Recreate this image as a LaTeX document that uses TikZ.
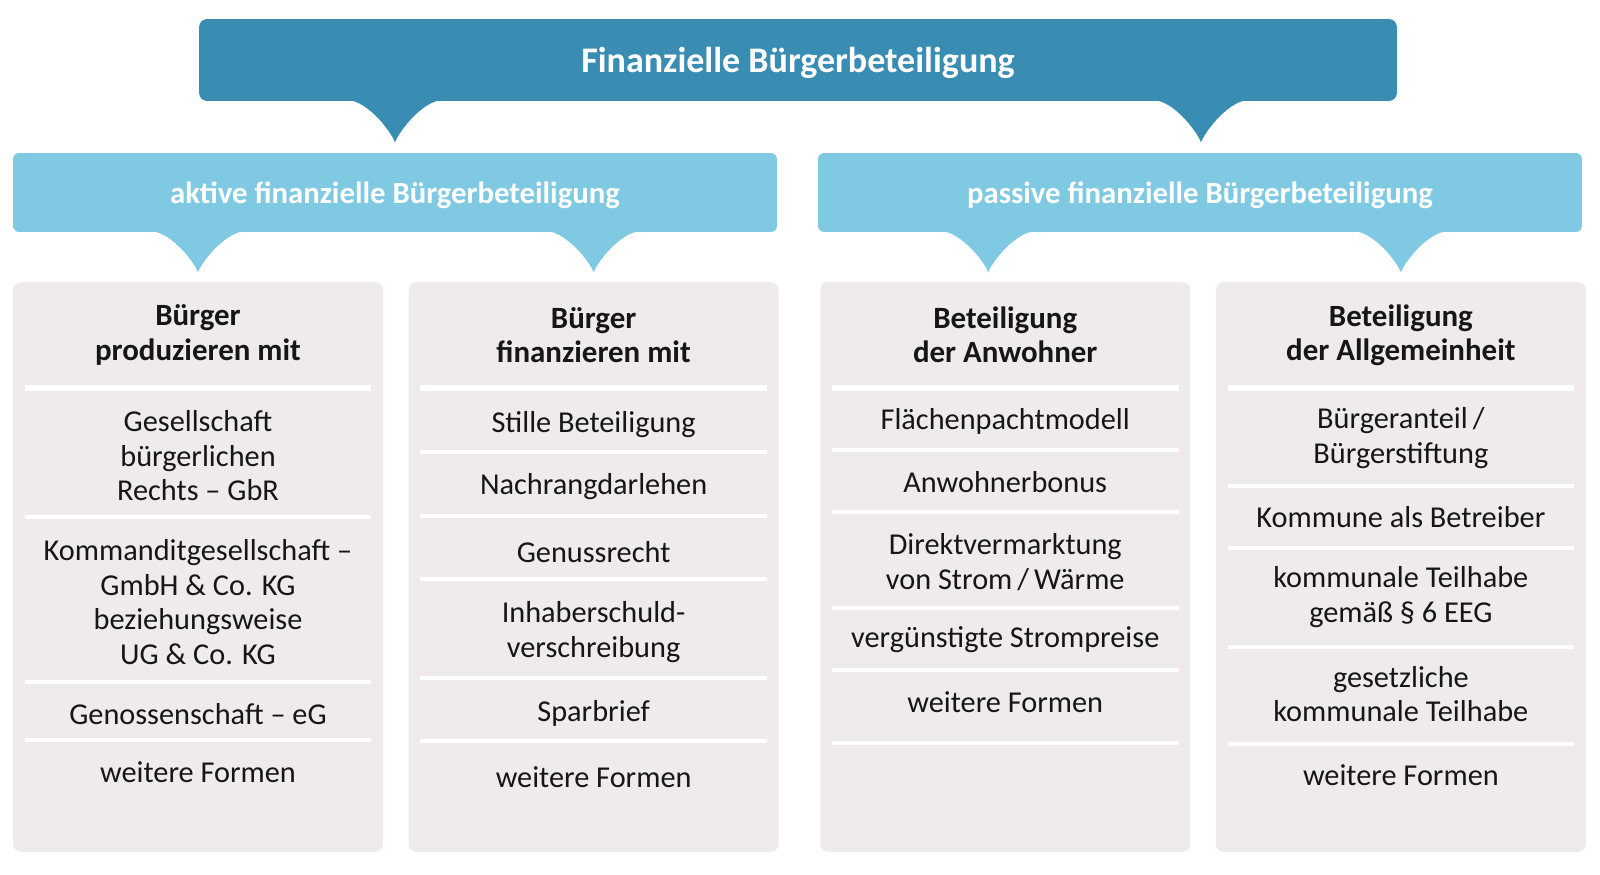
\documentclass[tikz,border=0pt]{standalone}
\usepackage{fontspec}
\setmainfont{Carlito}
\usetikzlibrary{positioning}
\usetikzlibrary{calc}

\definecolor{topblue}{RGB}{58,141,178}
\definecolor{midblue}{RGB}{127,202,226}
\definecolor{cardgray}{RGB}{238,235,234}
\definecolor{inkdark}{RGB}{22,22,22}

\tikzset{
    titlebox/.style={rectangle, rounded corners=0.16cm, fill=topblue, text=white,
        minimum width=23.96cm, minimum height=1.64cm, inner sep=0pt, text depth=0pt,
        font=\fontsize{20.5}{23}\selectfont\bfseries},
    groupbox/.style={rectangle, rounded corners=0.12cm, fill=midblue, text=white,
        minimum width=15.28cm, minimum height=1.58cm, inner sep=0pt, text depth=0pt,
        font=\fontsize{17.5}{21}\selectfont\bfseries},
    card/.style={rectangle, rounded corners=0.16cm, fill=cardgray,
        minimum width=7.4cm, minimum height=11.4cm, inner sep=0pt},
    cardhead/.style={align=center, text=inkdark, inner sep=0pt,
        font=\fontsize{17.6}{19.6}\selectfont\bfseries},
    item/.style={align=center, text=inkdark, inner sep=0pt,
        font=\fontsize{17.25}{19.6}\selectfont},
    headline/.style={draw=white, line width=0.12cm, shorten >=0.24cm, shorten <=0.24cm},
    sepline/.style={draw=white, line width=0.07cm, shorten >=0.24cm, shorten <=0.24cm}
}

\begin{document}
\begin{tikzpicture}[x=0.02cm,y=-0.02cm]
    \useasboundingbox (0,0) rectangle (1600,875);

    \node[titlebox] (title) at (798,60) {Finanzielle Bürgerbeteiligung};

    \node[groupbox] (aktiv) at (395,192.5) {aktive finanzielle Bürgerbeteiligung};
    \node[groupbox] (passiv) at (1200,192.5) {passive finanzielle Bürgerbeteiligung};

    \node[card] (c1) at (198,567) {};
    \node[card, right=0.5cm of c1] (c2) {};
    \node[card, right=0.82cm of c2] (c3) {};
    \node[card, right=0.5cm of c3] (c4) {};

    % tips under the title
    \fill[topblue] ($(aktiv.north |- title.south)+(-47,-1)$) .. controls +(18,0) and +(-5,-13) .. ++(47,42) .. controls +(5,-13) and +(-18,0) .. ++(47,-42) -- cycle;
    \fill[topblue] ($(passiv.north |- title.south)+(-46,-1)$) .. controls +(18,0) and +(-5,-13) .. ++(47,42) .. controls +(5,-13) and +(-18,0) .. ++(47,-42) -- cycle;

    % tips under the two groups
    \fill[midblue] ($(c1.north |- aktiv.south)+(-47,-1)$) .. controls +(18,0) and +(-5,-13) .. ++(47,41) .. controls +(5,-13) and +(-18,0) .. ++(47,-41) -- cycle;
    \fill[midblue] ($(c2.north |- aktiv.south)+(-47,-1)$) .. controls +(18,0) and +(-5,-13) .. ++(47,41) .. controls +(5,-13) and +(-18,0) .. ++(47,-41) -- cycle;
    \fill[midblue] ($(c3.north |- passiv.south)+(-64,-1)$) .. controls +(18,0) and +(-5,-13) .. ++(47,41) .. controls +(5,-13) and +(-18,0) .. ++(47,-41) -- cycle;
    \fill[midblue] ($(c4.north |- passiv.south)+(-47,-1)$) .. controls +(18,0) and +(-5,-13) .. ++(47,41) .. controls +(5,-13) and +(-18,0) .. ++(47,-41) -- cycle;

    % card 1
    \node[cardhead] (h1) at (c1.center |- 0,335) {Bürger\\produzieren mit};
    \draw[headline] (c1.west |- 0,388) -- (c1.east |- 0,388);
    \node[item] (a1) at (c1.center |- 0,456) {Gesellschaft\\bürgerlichen\\Rechts – GbR};
    \draw[sepline] (c1.west |- 0,517) -- (c1.east |- 0,517);
    \node[item] (a2) at (c1.center |- 0,602) {Kommanditgesellschaft –\\GmbH \& Co. KG\\beziehungsweise\\UG \& Co. KG};
    \draw[sepline] (c1.west |- 0,682) -- (c1.east |- 0,682);
    \node[item] (a3) at (c1.center |- 0,714) {Genossenschaft – eG};
    \draw[sepline] (c1.west |- 0,740) -- (c1.east |- 0,740);
    \node[item] (a4) at (c1.center |- 0,772) {weitere Formen};

    % card 2
    \node[cardhead] (h2) at (c2.center |- 0,335) {Bürger\\finanzieren mit};
    \draw[headline] (c2.west |- 0,388) -- (c2.east |- 0,388);
    \node[item] (b1) at (c2.center |- 0,425) {Stille Beteiligung};
    \draw[sepline] (c2.west |- 0,452) -- (c2.east |- 0,452);
    \node[item] (b2) at (c2.center |- 0,487) {Nachrangdarlehen};
    \draw[sepline] (c2.west |- 0,516) -- (c2.east |- 0,516);
    \node[item] (b3) at (c2.center |- 0,552) {Genussrecht};
    \draw[sepline] (c2.west |- 0,579) -- (c2.east |- 0,579);
    \node[item] (b4) at (c2.center |- 0,632) {Inhaberschuld-\\verschreibung};
    \draw[sepline] (c2.west |- 0,678) -- (c2.east |- 0,678);
    \node[item] (b5) at (c2.center |- 0,713) {Sparbrief};
    \draw[sepline] (c2.west |- 0,741) -- (c2.east |- 0,741);
    \node[item] (b6) at (c2.center |- 0,777) {weitere Formen};

    % card 3
    \node[cardhead] (h3) at (c3.center |- 0,335) {Beteiligung\\der Anwohner};
    \draw[headline] (c3.west |- 0,388) -- (c3.east |- 0,388);
    \node[item] (p1) at (c3.center |- 0,421) {Flächenpachtmodell};
    \draw[sepline] (c3.west |- 0,450) -- (c3.east |- 0,450);
    \node[item] (p2) at (c3.center |- 0,482) {Anwohnerbonus};
    \draw[sepline] (c3.west |- 0,512) -- (c3.east |- 0,512);
    \node[item] (p3) at (c3.center |- 0,562) {Direktvermarktung\\von Strom\,/\,Wärme};
    \draw[sepline] (c3.west |- 0,608) -- (c3.east |- 0,608);
    \node[item] (p4) at (c3.center |- 0,640) {vergünstigte Strompreise};
    \draw[sepline] (c3.west |- 0,670) -- (c3.east |- 0,670);
    \node[item] (p5) at (c3.center |- 0,702) {weitere Formen};
    \draw[sepline] (c3.west |- 0,743) -- (c3.east |- 0,743);

    % card 4
    \node[cardhead] (h4) at (c4.center |- 0,335) {Beteiligung\\der Allgemeinheit};
    \draw[headline] (c4.west |- 0,388) -- (c4.east |- 0,388);
    \node[item] (g1) at (c4.center |- 0,438) {Bürgeranteil\,/\\Bürgerstiftung};
    \draw[sepline] (c4.west |- 0,486) -- (c4.east |- 0,486);
    \node[item] (g2) at (c4.center |- 0,517) {Kommune als Betreiber};
    \draw[sepline] (c4.west |- 0,548) -- (c4.east |- 0,548);
    \node[item] (g3) at (c4.center |- 0,597) {kommunale Teilhabe\\gemäß § 6 EEG};
    \draw[sepline] (c4.west |- 0,647) -- (c4.east |- 0,647);
    \node[item] (g4) at (c4.center |- 0,694) {gesetzliche\\kommunale Teilhabe};
    \draw[sepline] (c4.west |- 0,744) -- (c4.east |- 0,744);
    \node[item] (g5) at (c4.center |- 0,775) {weitere Formen};

\end{tikzpicture}
\end{document}
